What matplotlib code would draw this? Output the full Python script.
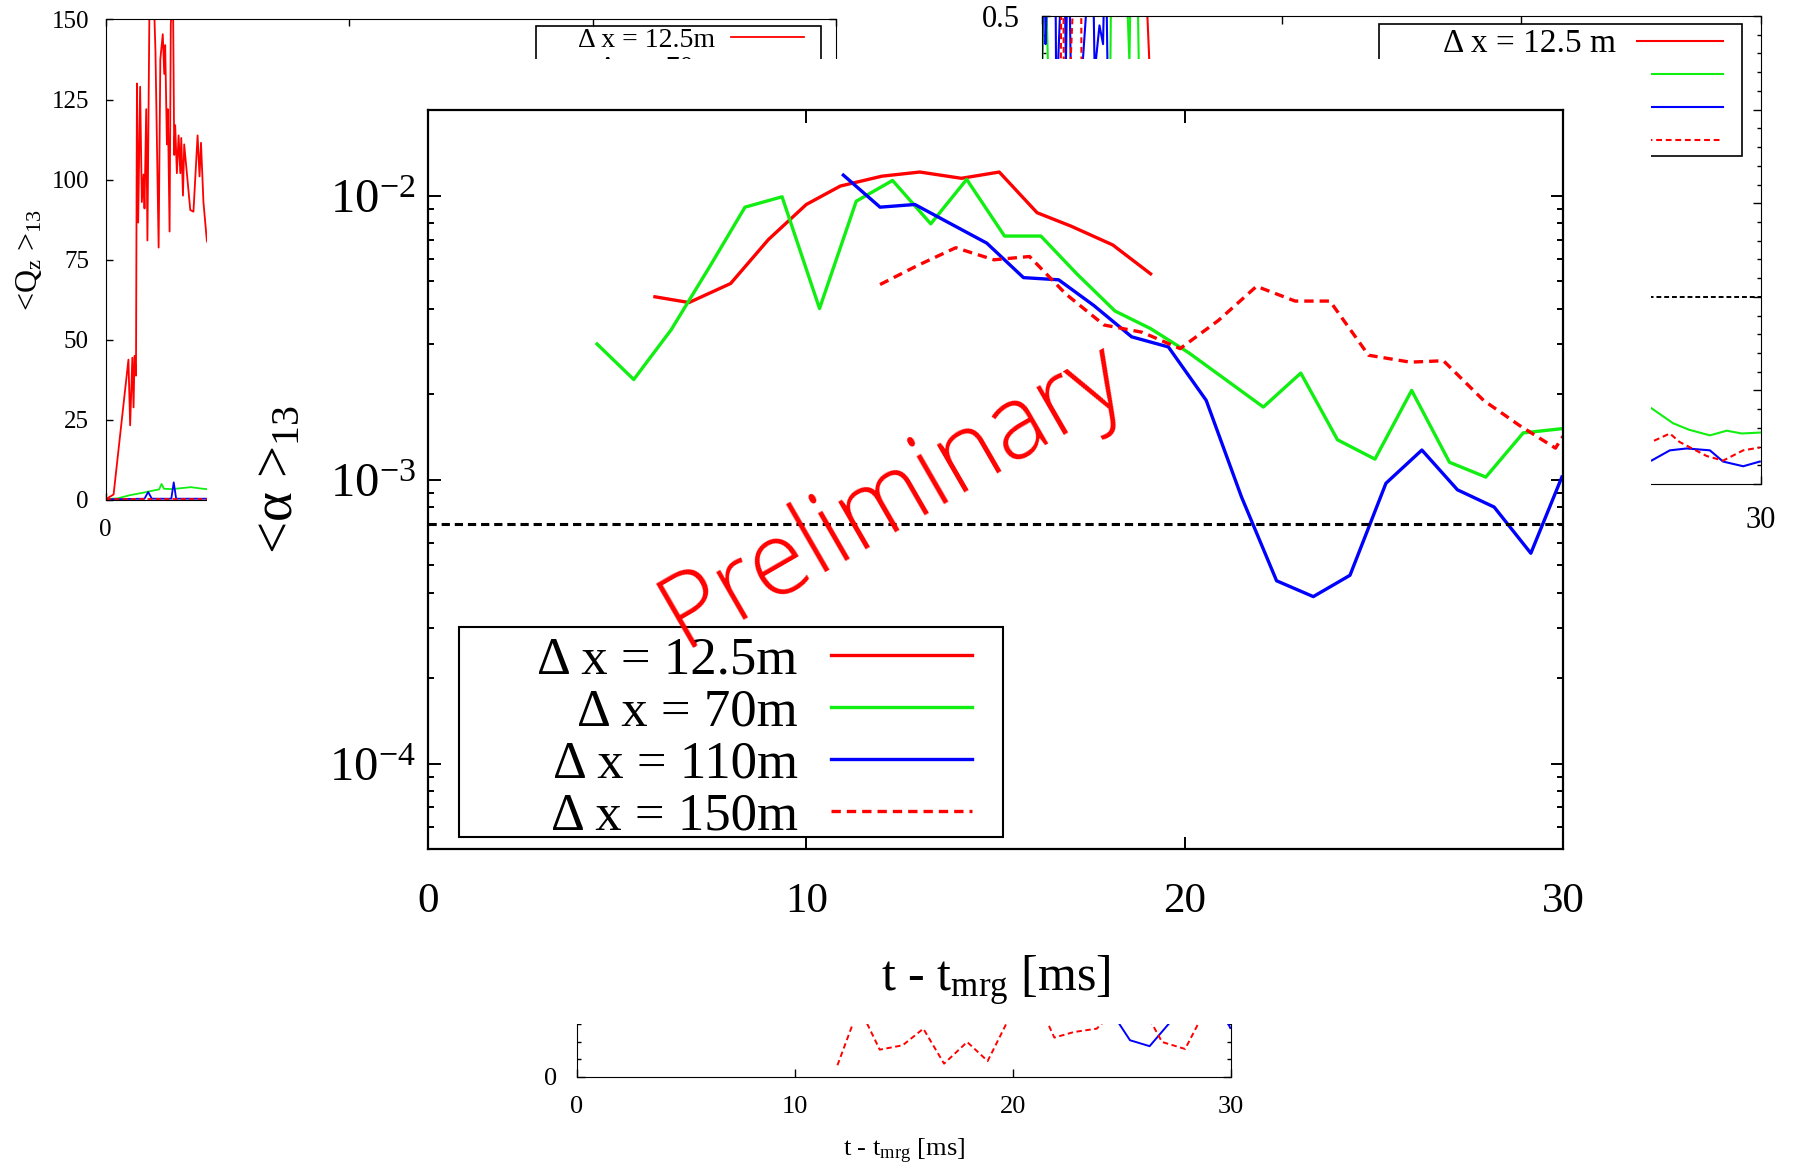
import matplotlib
matplotlib.use('Agg')
import matplotlib.pyplot as plt
from matplotlib.patches import Rectangle
from matplotlib.ticker import MultipleLocator, NullFormatter, FormatStrFormatter

# ---- main panel: <alpha>_13 vs t - t_mrg ----
t_125 = [6.0, 6.9, 8.0, 9.0, 10.0, 10.9, 12.0, 13.0, 14.1, 15.1, 16.1, 17.0, 18.1, 19.1]
alpha_125 = [4.4e-3, 4.2e-3, 4.9e-3, 7.0e-3, 9.3e-3, 1.08e-2, 1.17e-2, 1.21e-2, 1.15e-2,
             1.21e-2, 8.7e-3, 7.8e-3, 6.7e-3, 5.3e-3]

t_70 = [4.47, 5.44, 6.43, 7.44, 8.38, 9.36, 10.35, 11.32, 12.28, 13.29, 14.24, 15.24, 16.2,
        17.15, 18.16, 19.1, 20.1, 21.1, 22.08, 23.07, 24.04, 25.03, 26.0, 27.0, 27.96, 28.95, 29.97]
alpha_70 = [3.0e-3, 2.25e-3, 3.37e-3, 5.6e-3, 9.1e-3, 9.9e-3, 4.0e-3, 9.55e-3, 1.13e-2, 7.95e-3,
            1.14e-2, 7.2e-3, 7.2e-3, 5.3e-3, 3.92e-3, 3.4e-3, 2.8e-3, 2.24e-3, 1.8e-3, 2.37e-3,
            1.38e-3, 1.18e-3, 2.06e-3, 1.15e-3, 1.02e-3, 1.46e-3, 1.51e-3]

t_110 = [10.98, 11.95, 12.87, 13.82, 14.77, 15.74, 16.67, 17.6, 18.6, 19.57, 20.57, 21.5,
         22.43, 23.4, 24.37, 25.32, 26.27, 27.21, 28.18, 29.15, 29.97]
alpha_110 = [1.18e-2, 9.1e-3, 9.3e-3, 7.95e-3, 6.8e-3, 5.14e-3, 5.05e-3, 4.1e-3, 3.18e-3,
             2.93e-3, 1.9e-3, 8.7e-4, 4.4e-4, 3.87e-4, 4.6e-4, 9.7e-4, 1.27e-3, 9.2e-4, 8.0e-4,
             5.5e-4, 1.02e-3]

t_150 = [11.95, 12.94, 13.95, 14.96, 15.9, 16.86, 17.87, 18.88, 19.88, 20.89, 21.9, 22.92,
         23.84, 24.86, 25.96, 26.84, 27.9, 28.85, 29.8, 30.0]
alpha_150 = [4.86e-3, 5.67e-3, 6.55e-3, 5.94e-3, 6.1e-3, 4.5e-3, 3.5e-3, 3.3e-3, 2.89e-3,
             3.63e-3, 4.79e-3, 4.25e-3, 4.25e-3, 2.74e-3, 2.59e-3, 2.62e-3, 1.9e-3, 1.55e-3,
             1.29e-3, 1.42e-3]

alpha_floor = 7e-4
res_labels = ['Δ x = 12.5m', 'Δ x = 70m', 'Δ x = 110m', 'Δ x = 150m']

# ---- panel peeking out at top left: <Q_z>_13 ----
q_t_125 = [0.0, 0.33, 0.94, 1.01, 1.1, 1.15, 1.19, 1.25, 1.29, 1.34, 1.42, 1.49, 1.56, 1.6,
           1.67, 1.72, 1.81, 1.95, 2.05, 2.18, 2.25, 2.35, 2.41, 2.45, 2.52, 2.56, 2.63, 2.68,
           2.77, 2.82, 2.86, 2.93, 3.0, 3.07, 3.11, 3.18, 3.23, 3.34, 3.48, 3.61, 3.78, 3.86,
           3.92, 4.02, 4.16, 4.3]
q_125 = [0.2, 1.7, 43.8, 23.3, 44.4, 28.9, 45, 38.8, 130, 86.6, 129, 93, 101.6, 91, 122, 81,
         160, 165, 140, 78.8, 137.6, 145.4, 133, 142, 111, 122, 83.8, 148.7, 158, 107.7, 117,
         102, 113.8, 102, 113, 95, 111, 102, 90.5, 90, 113.8, 101, 111.5, 93, 81, 78]
q_t_70 = [0, 0.5, 1.0, 1.5, 2.0, 2.2, 2.3, 2.4, 2.7, 3.0, 3.5, 4.0, 4.3]
q_70 = [0.3, 0.5, 1.5, 2.2, 3.0, 3.3, 5.0, 3.5, 3.4, 3.6, 4.0, 3.5, 3.3]
q_t_110 = [0, 1.6, 1.75, 1.9, 2.7, 2.8, 2.9, 4.3]
q_110 = [0.2, 0.4, 2.5, 0.4, 0.4, 5.5, 0.4, 0.4]
q_t_150 = [0, 4.3]
q_150 = [0.3, 0.3]

# ---- panel peeking out at top right ----
r_t_125 = [4.3, 4.4, 4.5, 5.0, 8.0, 12.0, 19.0]
r_125 = [0.9, 0.5, 0.44, 0.4, 0.35, 0.3, 0.25]
r_t_70 = [0.0, 0.1, 0.25, 0.4, 1.0, 2.8, 2.95, 3.3, 3.65, 3.8, 3.95, 4.1, 5, 10, 15, 20,
          25.43, 26.33, 27.0, 27.87, 28.57, 29.2, 29.96]
r_70 = [0.4, 0.6, 0.45, 0.3, 0.3, 0.3, 0.7, 0.7, 0.45, 0.7, 0.6, 0.35, 0.3, 0.25, 0.2, 0.15,
        0.081, 0.065, 0.058, 0.052, 0.057, 0.054, 0.055]
r_t_110 = [0.0, 0.1, 0.15, 0.3, 0.55, 0.6, 0.9, 1.0, 1.1, 1.3, 2.1, 2.2, 2.4, 2.55, 2.65, 2.75,
           3.0, 5, 10, 15, 20, 25.43, 26.2, 26.9, 27.87, 28.42, 29.26, 29.95]
r_110 = [0.45, 0.6, 0.47, 0.6, 0.6, 0.4, 0.6, 0.45, 0.6, 0.3, 0.6, 0.44, 0.49, 0.47, 0.6, 0.42,
         0.3, 0.2, 0.15, 0.1, 0.06, 0.025, 0.036, 0.038, 0.036, 0.024, 0.019, 0.024]
r_t_150 = [0, 0.75, 0.85, 0.95, 1.6, 1.68, 2.0, 5, 10, 15, 20, 25.43, 26.2, 26.6, 27.73, 28.42,
           29.26, 29.95]
r_150 = [0.3, 0.3, 0.7, 0.3, 0.7, 0.3, 0.25, 0.2, 0.15, 0.1, 0.07, 0.045, 0.054, 0.045, 0.030,
         0.025, 0.036, 0.039]
r_floor = 0.2
r_labels = ['Δ x = 12.5 m', 'Δ x = 70 m', 'Δ x = 110 m', 'Δ x = 150 m']

# ---- panel peeking out below ----
b_t_110 = [24.37, 25.37, 26.27, 27.26, 28.2, 29.15, 29.97]
b_110 = [4.0, 2.1, 1.76, 3.2, 5.0, 5.0, 2.8]
b_t_150 = [11.95, 12.94, 13.89, 14.94, 15.89, 16.84, 17.9, 18.84, 19.88, 20.89, 21.9, 22.8,
           23.84, 24.86, 25.96, 26.84, 27.9, 28.9, 29.8, 30.0]
b_150 = [0.67, 4.0, 1.56, 1.81, 2.76, 0.76, 2.0, 0.91, 3.5, 5.0, 2.25, 2.57, 2.76, 4.0, 4.0,
         2.0, 1.6, 4.0, 4.0, 4.0]

plt.rcParams['font.family'] = ['Liberation Serif', 'DejaVu Serif']
plt.rcParams['mathtext.fontset'] = 'custom'
plt.rcParams['mathtext.rm'] = 'Liberation Serif'
plt.rcParams['mathtext.it'] = 'Liberation Serif:italic'
plt.rcParams['xtick.direction'] = 'in'
plt.rcParams['ytick.direction'] = 'in'

RED, GREEN, BLUE = '#ff0000', '#11ee11', '#0000ff'
colors = [RED, GREEN, BLUE, RED]
styles = ['-', '-', '-', (0, (2.8, 1.8))]

fig = plt.figure(figsize=(17.98, 11.72), dpi=100)

# top-left fragment
axq = fig.add_axes([0.0587, 0.5734, 0.4063, 0.4100])
axq.set_zorder(0)
for (t, q), c, ls, lab in zip([(q_t_125, q_125), (q_t_70, q_70), (q_t_110, q_110), (q_t_150, q_150)],
                              colors, styles, res_labels):
    axq.plot(t, q, color=c, ls=ls, lw=1.3, label=lab)
axq.set_xlim(0, 30)
axq.set_ylim(0, 150)
axq.set_xticks([0, 10, 20, 30])
axq.set_yticks(range(0, 151, 25))
axq.tick_params(labelsize=18, top=True, right=True, length=5, width=1)
axq.tick_params(axis='y', pad=12)
axq.tick_params(axis='x', pad=14)
axq.set_ylabel('<Q$_{\\mathrm{z}}$ >$_{13}$', fontsize=23, labelpad=5)
axq.legend(loc='upper right', bbox_to_anchor=(0.9556, 0.984), frameon=False, markerfirst=False,
           fontsize=20, handlelength=2.6, handletextpad=0.58, labelspacing=0.1,
           borderpad=0, borderaxespad=0)
axq.add_patch(Rectangle((0.589, 0.66), 0.390, 0.3265, transform=axq.transAxes, fill=False,
                        edgecolor='black', lw=1.2, zorder=5))

# top-right fragment
axr = fig.add_axes([0.5795, 0.5870, 0.3999, 0.3993])
axr.set_zorder(0)
for (t, r), c, ls, lab in zip([(r_t_125, r_125), (r_t_70, r_70), (r_t_110, r_110), (r_t_150, r_150)],
                              colors, styles, r_labels):
    axr.plot(t, r, color=c, ls=ls, lw=1.5, label=lab)
axr.axhline(r_floor, color='black', ls=(0, (2.5, 1.5)), lw=1.4)
axr.set_xlim(0, 30)
axr.set_ylim(0, 0.5)
axr.set_xticks([0, 10, 20, 30])
axr.yaxis.set_major_locator(MultipleLocator(0.1))
axr.yaxis.set_minor_locator(MultipleLocator(0.02))
axr.yaxis.set_major_formatter(FormatStrFormatter('%.1f'))
axr.tick_params(which='both', labelsize=22, top=True, right=True, width=1)
axr.tick_params(which='major', length=6)
axr.tick_params(which='minor', length=3)
axr.tick_params(axis='both', pad=16)
axr.legend(loc='upper right', bbox_to_anchor=(0.947, 0.973), frameon=False, markerfirst=False,
           fontsize=24, handlelength=2.58, handletextpad=0.62, labelspacing=0.08,
           borderpad=0, borderaxespad=0)
axr.add_patch(Rectangle((0.4687, 0.7009), 0.505, 0.282, transform=axr.transAxes, fill=False,
                        edgecolor='black', lw=1.2, zorder=5))

# bottom fragment
axb = fig.add_axes([0.3209, 0.0811, 0.3637, 0.3387])
axb.set_zorder(0)
axb.plot(b_t_110, b_110, color=BLUE, lw=1.4)
axb.plot(b_t_150, b_150, color=RED, ls=(0, (2.8, 1.8)), lw=1.4)
axb.set_xlim(0, 30)
axb.set_ylim(0, 22.7)
axb.set_xticks([0, 10, 20, 30])
axb.yaxis.set_major_locator(MultipleLocator(5))
axb.yaxis.set_minor_locator(MultipleLocator(1))
axb.tick_params(which='both', labelsize=19, top=True, right=True, width=1)
axb.tick_params(which='major', length=6)
axb.tick_params(which='minor', length=3)
axb.tick_params(axis='both', pad=14)
axb.set_xlabel('t - t$_{\\mathrm{mrg}}$ [ms]', fontsize=19, labelpad=13)

# white slide covering the fragments
fig.add_artist(Rectangle((0.1154, 0.1263), 0.8029, 0.8234, transform=fig.transFigure,
                         facecolor='white', edgecolor='none', zorder=1))

# main panel
ax = fig.add_axes([0.2380, 0.2756, 0.6313, 0.6305])
ax.set_zorder(3)
ax.set_facecolor('white')
for (t, a), c, ls, lab in zip([(t_125, alpha_125), (t_70, alpha_70), (t_110, alpha_110), (t_150, alpha_150)],
                              colors, styles, res_labels):
    ax.plot(t, a, color=c, ls=ls, lw=2.4, label=lab)
ax.axhline(alpha_floor, color='black', ls=(0, (2.7, 1.6)), lw=2.2)
ax.set_yscale('log')
ax.set_xlim(0, 30)
ax.set_ylim(5e-5, 2e-2)
ax.set_xticks([0, 10, 20, 30])
ax.yaxis.set_minor_formatter(NullFormatter())
ax.tick_params(which='both', top=True, right=True, width=1.4)
ax.tick_params(axis='x', labelsize=31, pad=24)
ax.tick_params(axis='y', labelsize=35, pad=9)
ax.tick_params(which='major', length=9)
ax.tick_params(which='minor', length=4.5)
for s in ax.spines.values():
    s.set_linewidth(1.6)
ax.set_xlabel('t - t$_{\\mathrm{mrg}}$ [ms]', fontsize=36, labelpad=24)
ax.set_ylabel('<α >$_{13}$', fontsize=41, labelpad=18)
ax.legend(loc='upper right', bbox_to_anchor=(0.4793, 0.288), frameon=False, markerfirst=False,
          fontsize=38, handlelength=2.67, handletextpad=0.63, labelspacing=0.08,
          borderpad=0, borderaxespad=0)
ax.add_patch(Rectangle((0.0273, 0.0162), 0.4793, 0.2842, transform=ax.transAxes, fill=False,
                       edgecolor='black', lw=1.5, zorder=5))
ax.text(0.410, 0.4777, 'Preliminary', transform=ax.transAxes, rotation=30,
        rotation_mode='anchor', ha='center', va='center', color='red', fontsize=74,
        family=['Open Sans Light', 'Lato Light', 'Open Sans'], fontweight='light', zorder=10)

fig.savefig('out.png', dpi=100)
